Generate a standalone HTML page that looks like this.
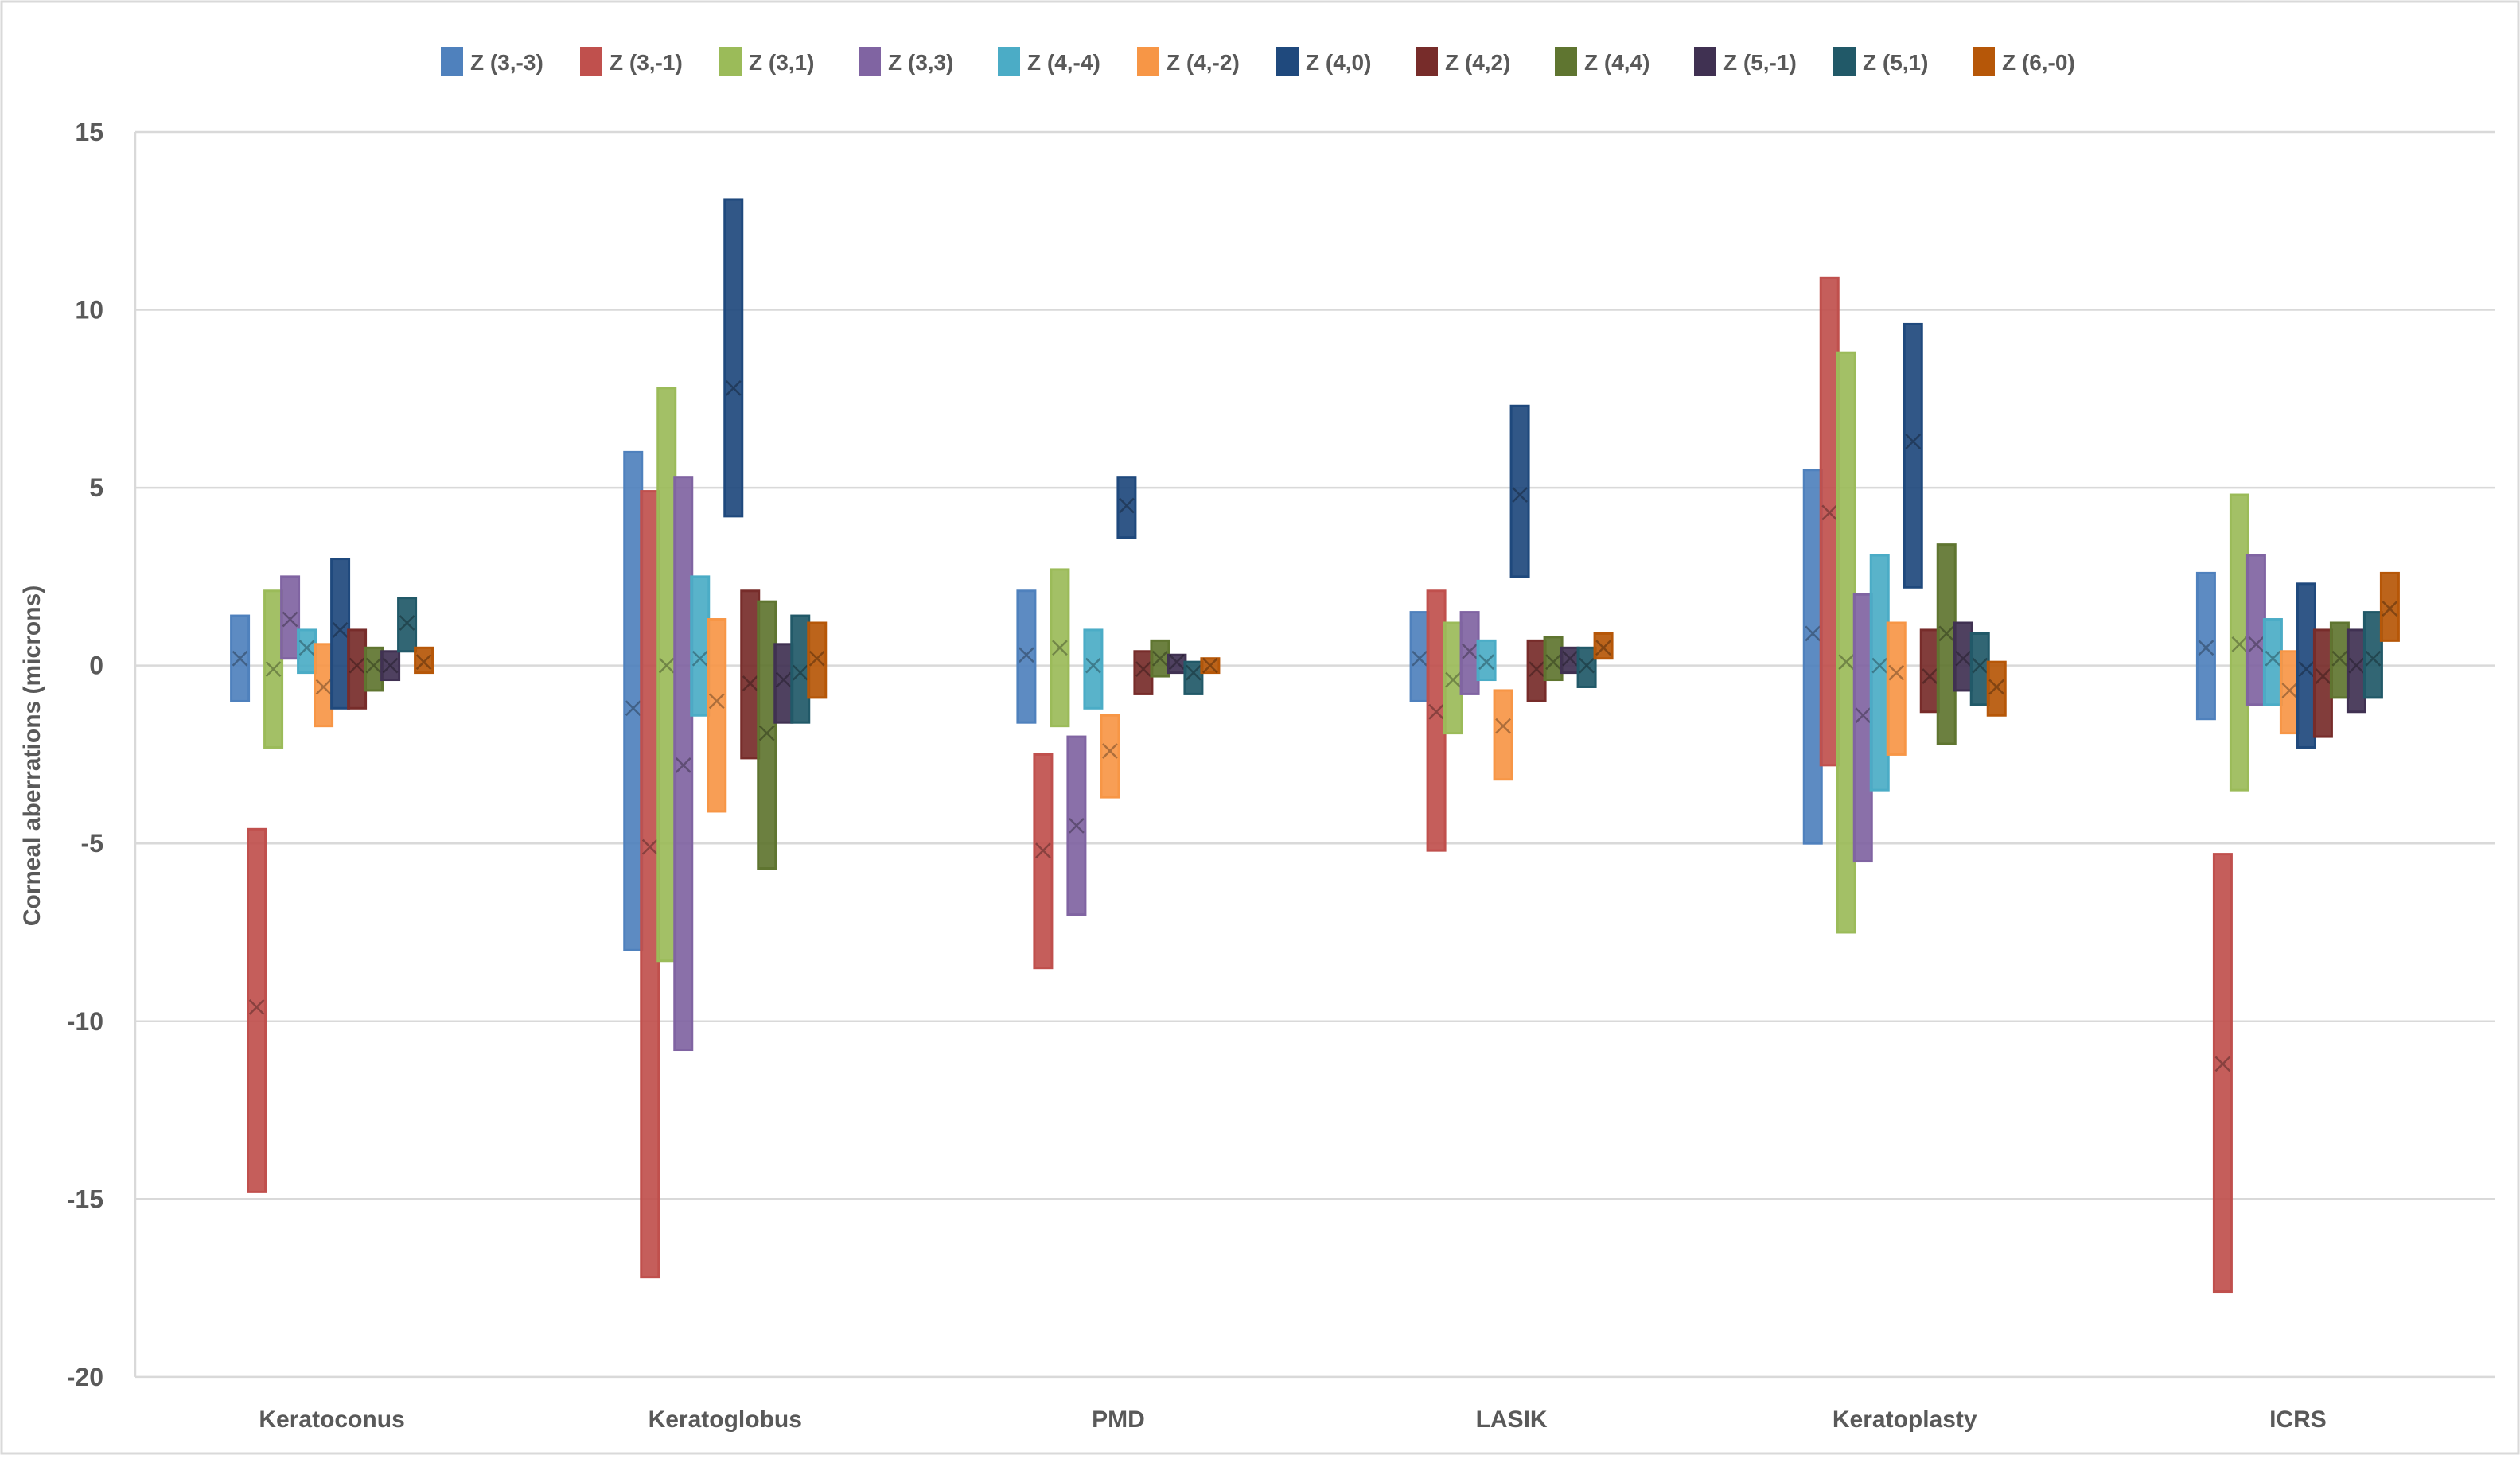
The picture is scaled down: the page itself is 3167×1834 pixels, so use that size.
<!DOCTYPE html>
<html><head><meta charset="utf-8">
<style>
html,body{margin:0;padding:0;background:#fff;}
svg text{font-family:"Liberation Sans",sans-serif;font-weight:bold;fill:#595959;}
</style></head>
<body>
<svg id="chart" width="3167" height="1829" xmlns="http://www.w3.org/2000/svg">
<rect x="2" y="2" width="3163" height="1825" fill="#fff" stroke="#d9d9d9" stroke-width="3"/>
<g id="grid"></g>
<g id="bars"></g>
<g id="legend"></g>
<text x="50" y="950" font-size="30" text-anchor="middle" transform="rotate(-90 50 950)">Corneal aberrations (microns)</text>
</svg>
<script>
const categories = ["Keratoconus","Keratoglobus","PMD","LASIK","Keratoplasty","ICRS"];
const seriesNames = ["Z (3,-3)","Z (3,-1)","Z (3,1)","Z (3,3)","Z (4,-4)","Z (4,-2)","Z (4,0)","Z (4,2)","Z (4,4)","Z (5,-1)","Z (5,1)","Z (6,-0)"];
const colors = ["#4F81BD","#C0504D","#9BBB59","#8064A2","#4BACC6","#F79646","#1F497D","#772C2A","#5F7530","#403152","#215968","#B65708"];
const yTicks = [15,10,5,0,-5,-10,-15,-20];
const maxVals = [
 [1.4,-4.6,2.1,2.5,1.0,0.6,3.0,1.0,0.5,0.4,1.9,0.5],
 [6.0,4.9,7.8,5.3,2.5,1.3,13.1,2.1,1.8,0.6,1.4,1.2],
 [2.1,-2.5,2.7,-2.0,1.0,-1.4,5.3,0.4,0.7,0.3,0.1,0.2],
 [1.5,2.1,1.2,1.5,0.7,-0.7,7.3,0.7,0.8,0.5,0.5,0.9],
 [5.5,10.9,8.8,2.0,3.1,1.2,9.6,1.0,3.4,1.2,0.9,0.1],
 [2.6,-5.3,4.8,3.1,1.3,0.4,2.3,1.0,1.2,1.0,1.5,2.6]
];
const minVals = [
 [-1.0,-14.8,-2.3,0.2,-0.2,-1.7,-1.2,-1.2,-0.7,-0.4,0.4,-0.2],
 [-8.0,-17.2,-8.3,-10.8,-1.4,-4.1,4.2,-2.6,-5.7,-1.6,-1.6,-0.9],
 [-1.6,-8.5,-1.7,-7.0,-1.2,-3.7,3.6,-0.8,-0.3,-0.2,-0.8,-0.2],
 [-1.0,-5.2,-1.9,-0.8,-0.4,-3.2,2.5,-1.0,-0.4,-0.2,-0.6,0.2],
 [-5.0,-2.8,-7.5,-5.5,-3.5,-2.5,2.2,-1.3,-2.2,-0.7,-1.1,-1.4],
 [-1.5,-17.6,-3.5,-1.1,-1.1,-1.9,-2.3,-2.0,-0.9,-1.3,-0.9,0.7]
];
const meanVals = [
 [0.2,-9.6,-0.1,1.3,0.5,-0.6,1.0,0.0,0.0,0.0,1.2,0.1],
 [-1.2,-5.1,0.0,-2.8,0.2,-1.0,7.8,-0.5,-1.9,-0.4,-0.2,0.2],
 [0.3,-5.2,0.5,-4.5,0.0,-2.4,4.5,-0.1,0.2,0.1,-0.2,0.0],
 [0.2,-1.3,-0.4,0.4,0.1,-1.7,4.8,-0.1,0.1,0.2,0.0,0.5],
 [0.9,4.3,0.1,-1.4,0.0,-0.2,6.3,-0.3,0.9,0.2,0.0,-0.6],
 [0.5,-11.2,0.6,0.6,0.2,-0.7,-0.1,-0.3,0.2,0.0,0.2,1.6]
];
const NS="http://www.w3.org/2000/svg";
const X0=170,X1=3135,Y15=166,PU=44.71;
const y=v=>Y15+(15-v)*PU;
const cw=(X1-X0)/categories.length;
const step=21,bw=22;
function mk(tag,attrs,parent){const e=document.createElementNS(NS,tag);for(const k in attrs)e.setAttribute(k,attrs[k]);parent.appendChild(e);return e;}
const grid=document.getElementById('grid');
yTicks.forEach(t=>{
  const l=mk('line',{x1:X0,x2:X1,y1:y(t),y2:y(t),stroke:'#d9d9d9','stroke-width':2.5},grid);
  
  
  const tx=mk('text',{x:X0-40,y:y(t)+11,'font-size':32,'text-anchor':'end'},grid);
  tx.textContent=t;
  
  
});
const ax=mk('line',{x1:X0,x2:X0,y1:y(15),y2:y(-20),stroke:'#d9d9d9','stroke-width':2.5},grid);


const bars=document.getElementById('bars');
categories.forEach((c,ci)=>{
  const cx=X0+cw*(ci+0.5);
  const t=mk('text',{x:cx,y:1794,'font-size':30,'text-anchor':'middle'},bars);
  t.textContent=c;
  
  
  seriesNames.forEach((s,si)=>{
    const bx=cx+(si-5.5)*step-bw/2;
    const top=y(maxVals[ci][si]),bot=y(minVals[ci][si]);
    const r=mk('rect',{x:bx,y:top,width:bw,height:Math.max(1,bot-top),fill:colors[si],'fill-opacity':0.92,stroke:colors[si],'stroke-width':3},bars);
    
    
    const my=y(meanVals[ci][si]),mx=bx+bw/2,d=9;
    const p=mk('path',{d:`M${mx-d},${my-d}L${mx+d},${my+d}M${mx-d},${my+d}L${mx+d},${my-d}`,stroke:'rgba(0,0,0,0.3)','stroke-width':2.5,fill:'none'},bars);
    
    
  });
});
const lg=document.getElementById('legend');
seriesNames.forEach((s,si)=>{
  const lx=555+si*175;
  const r=mk('rect',{x:lx,y:60,width:26,height:34,fill:colors[si],stroke:colors[si],'stroke-width':2},lg);
  
  
  const t=mk('text',{x:lx+36,y:88,'font-size':28},lg);
  t.textContent=s;
  
  
});
</script>
</body></html>
